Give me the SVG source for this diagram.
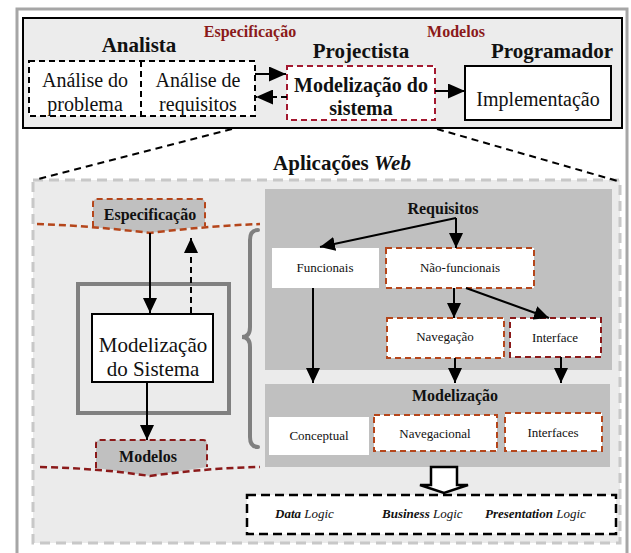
<svg xmlns="http://www.w3.org/2000/svg" width="631" height="553" viewBox="0 0 631 553" font-family="'Liberation Serif', 'Times New Roman', serif">
<defs>
<style>
text{font-family:'Liberation Serif','Times New Roman',serif;fill:#111}
.b{font-weight:bold}
.red{fill:#8b1a1a;font-weight:bold;font-size:16px}
.role{font-weight:bold;font-size:21px}
.big{font-size:20px}
.sm{font-size:13px}
.mid{font-size:16px;font-weight:bold}
.ln{stroke:#000;stroke-width:2;fill:none}
.dash{stroke-dasharray:6 4}
.brown{stroke:#b5461b;stroke-width:2;stroke-dasharray:6 4;fill:#fff}
.dred{stroke:#8b1a1a;stroke-width:2;stroke-dasharray:6 4;fill:#fff}
.crim{stroke:#a3182f;stroke-width:2;stroke-dasharray:6 4;fill:#fff}
</style>
<marker id="ah" markerWidth="17" markerHeight="15" refX="17" refY="7.5" orient="auto" markerUnits="userSpaceOnUse"><path d="M0,0 L17,7.5 L0,15 Z" fill="#000"/></marker>
<marker id="ahs" markerWidth="15" markerHeight="14" refX="15" refY="7" orient="auto" markerUnits="userSpaceOnUse"><path d="M0,0 L15,7 L0,14 Z" fill="#000"/></marker>
</defs>
<rect x="0" y="0" width="631" height="553" fill="#fff"/>
<rect x="17" y="9" width="610" height="560" fill="none" stroke="#a6a6a6" stroke-width="3"/>
<g id="top-panel">
<rect x="23" y="18" width="599" height="110" fill="#ececec" stroke="#000" stroke-width="2"/>
<text class="red" x="250" y="37" text-anchor="middle">Especificação</text>
<text class="red" x="456" y="37" text-anchor="middle">Modelos</text>
<text class="role" x="139" y="52" text-anchor="middle">Analista</text>
<text class="role" x="361" y="58" text-anchor="middle">Projectista</text>
<text class="role" x="552" y="58" text-anchor="middle">Programador</text>
</g>
<g id="analise">
<rect x="29" y="61" width="226" height="55" fill="#fff" stroke="#000" stroke-width="2" stroke-dasharray="6 4"/>
<line x1="141" y1="61" x2="141" y2="116" stroke="#000" stroke-width="2" stroke-dasharray="6 4"/>
<text class="big" x="85" y="87" text-anchor="middle">Análise do</text>
<text class="big" x="85" y="111" text-anchor="middle">problema</text>
<text class="big" x="198" y="87" text-anchor="middle">Análise de</text>
<text class="big" x="198" y="111" text-anchor="middle">requisitos</text>
</g>
<g id="modelizacao-top">
<rect x="287" y="66" width="148" height="54" class="crim"/>
<text class="big b" x="361" y="92" text-anchor="middle">Modelização do</text>
<text class="big b" x="361" y="115" text-anchor="middle">sistema</text>
</g>
<g id="implementacao">
<rect x="465" y="66" width="146" height="54" fill="#fff" stroke="#000" stroke-width="2"/>
<text class="big" x="538" y="106" text-anchor="middle">Implementação</text>
</g>
<text class="b" x="342" y="170" text-anchor="middle" font-size="21">Aplicações <tspan font-style="italic">Web</tspan></text>
<g id="web-panel">
<rect x="33" y="180" width="587" height="363" fill="#ebebeb" stroke="#c8c8c8" stroke-width="3" stroke-dasharray="10 6"/>
</g>
<g id="especificacao">
<path d="M93,227 V203 Q93,199 97,199 H201 Q205,199 205,203 V226 L150,233 Z" fill="#c0c0c0"/>
<path d="M93,227 V203 Q93,199 97,199 H201 Q205,199 205,203 V226" fill="none" stroke="#b5461b" stroke-width="2" stroke-dasharray="6 4"/>
<path d="M37,224 Q93,226 150,233 Q207,226 260,224" fill="none" stroke="#b5461b" stroke-width="2.5" stroke-dasharray="7 4"/>
<text class="mid" x="150" y="220" text-anchor="middle" font-size="15">Especificação</text>
</g>
<g id="sistema-frame">
<rect x="78" y="284" width="151" height="129" fill="none" stroke="#808080" stroke-width="4"/>
</g>
<g id="modelizacao-sistema">
<rect x="92" y="314" width="121" height="68" fill="#fff" stroke="#000" stroke-width="2"/>
<text x="153" y="352" text-anchor="middle" font-size="21">Modelização</text>
<text x="153" y="376" text-anchor="middle" font-size="21">do Sistema</text>
</g>
<g id="modelos">
<path d="M96,468 V444 Q96,440 100,440 H203 Q207,440 207,444 V467 L150,476 Z" fill="#c0c0c0"/>
<path d="M96,468 V444 Q96,440 100,440 H203 Q207,440 207,444 V467" fill="none" stroke="#8b1a1a" stroke-width="2" stroke-dasharray="6 4"/>
<path d="M40,467 Q96,468 150,476 Q207,468 260,467" fill="none" stroke="#8b1a1a" stroke-width="2.5" stroke-dasharray="7 4"/>
<text class="mid" x="148" y="462" text-anchor="middle" font-size="15">Modelos</text>
</g>
<g id="brace">
<path d="M258,230 Q250,230 250,240 V327 Q250,337 242,337 Q250,337 250,347 V437 Q250,447 258,447" fill="none" stroke="#808080" stroke-width="4" stroke-linecap="round"/>
</g>
<g id="requisitos">
<rect x="265" y="189" width="347" height="181" fill="#c0c0c0"/>
<text class="mid" x="443" y="214" text-anchor="middle">Requisitos</text>
</g>
<g id="funcionais">
<rect x="272" y="248" width="107" height="40" fill="#fff"/>
<text class="sm" x="325" y="272" text-anchor="middle">Funcionais</text>
</g>
<g id="nao-funcionais">
<rect x="386" y="248" width="148" height="40" class="brown"/>
<text class="sm" x="460" y="272" text-anchor="middle">Não-funcionais</text>
</g>
<g id="navegacao">
<rect x="387" y="318" width="117" height="40" class="brown"/>
<text class="sm" x="445" y="341" text-anchor="middle">Navegação</text>
</g>
<g id="interface">
<rect x="510" y="318" width="91" height="39" class="dred"/>
<text class="sm" x="555" y="342" text-anchor="middle">Interface</text>
</g>
<g id="modelizacao">
<rect x="265" y="384" width="345" height="83" fill="#c0c0c0"/>
<text class="mid" x="455" y="401" text-anchor="middle">Modelização</text>
</g>
<g id="conceptual">
<rect x="269" y="417" width="100" height="38" fill="#fff"/>
<text class="sm" x="319" y="440" text-anchor="middle">Conceptual</text>
</g>
<g id="navegacional">
<rect x="374" y="415" width="123" height="36" class="brown"/>
<text class="sm" x="435" y="438" text-anchor="middle">Navegacional</text>
</g>
<g id="interfaces">
<rect x="505" y="413" width="97" height="38" class="brown"/>
<text class="sm" x="553" y="437" text-anchor="middle">Interfaces</text>
</g>
<g id="logic">
<rect x="247" y="495" width="369" height="39" fill="#fff" stroke="#000" stroke-width="2.5" stroke-dasharray="9 5"/>
<text class="sm" x="275" y="518"><tspan font-weight="bold" font-style="italic">Data</tspan> <tspan font-style="italic">Logic</tspan></text>
<text class="sm" x="382" y="518"><tspan font-weight="bold" font-style="italic">Business</tspan> <tspan font-style="italic">Logic</tspan></text>
<text class="sm" x="485" y="518"><tspan font-weight="bold" font-style="italic">Presentation</tspan> <tspan font-style="italic">Logic</tspan></text>
</g>
<g id="connectors">
<line class="ln" x1="255" y1="74" x2="286" y2="74" marker-end="url(#ah)"/>
<line class="ln dash" x1="287" y1="97" x2="256" y2="97" marker-end="url(#ah)"/>
<line class="ln" x1="435" y1="91" x2="465" y2="91" marker-end="url(#ah)"/>
<line x1="232" y1="129" x2="38" y2="179" stroke="#000" stroke-width="2" stroke-dasharray="7 5"/>
<line x1="437" y1="129" x2="621" y2="182" stroke="#000" stroke-width="2" stroke-dasharray="7 5"/>
<line class="ln" x1="150" y1="233" x2="150" y2="313" marker-end="url(#ahs)"/>
<line class="ln dash" x1="191" y1="313" x2="191" y2="238" marker-end="url(#ahs)"/>
<line class="ln" x1="147" y1="382" x2="147" y2="440" marker-end="url(#ahs)"/>
<line class="ln" x1="456" y1="218" x2="320" y2="247" marker-end="url(#ahs)"/>
<line class="ln" x1="456" y1="218" x2="456" y2="248" marker-end="url(#ahs)"/>
<line class="ln" x1="454" y1="288" x2="454" y2="318" marker-end="url(#ahs)"/>
<line class="ln" x1="466" y1="288" x2="549" y2="318" marker-end="url(#ahs)"/>
<line class="ln" x1="313" y1="288" x2="313" y2="383" marker-end="url(#ahs)"/>
<line class="ln" x1="455" y1="358" x2="455" y2="383" marker-end="url(#ahs)"/>
<line class="ln" x1="561" y1="357" x2="561" y2="383" marker-end="url(#ahs)"/>
<path d="M431,467 H457 V485 H468 L444,493 L420,485 H431 Z" fill="#fff" stroke="#000" stroke-width="2.5"/>
</g>
</svg>
